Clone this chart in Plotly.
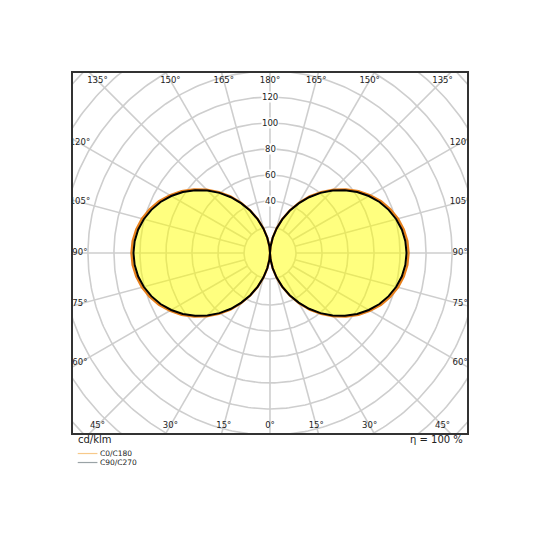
import numpy as np
import plotly.graph_objects as go

# Lichtstärkeverteilung (cd/klm), gamma 0..180 in 5°-Schritten
gamma = list(range(0, 181, 5))
c0_c180 = [0, 5.1, 12.0, 19.7, 27.9, 36.3, 44.8, 53.2, 61.3, 69.1, 76.3, 83.0, 89.0, 94.3, 98.6, 102.0, 104.5, 106.1,
           106.6,
           106.1, 104.5, 102.0, 98.6, 94.3, 89.0, 83.0, 76.3, 69.1, 61.3, 53.2, 44.8, 36.3, 27.9, 19.7, 12.0, 5.1, 0]
c90_c270 = [0, 5.0, 11.8, 19.4, 27.5, 35.8, 44.1, 52.4, 60.4, 68.1, 75.2, 81.8, 87.7, 92.9, 97.1, 100.5, 103.0, 104.5,
            105.0,
            104.5, 103.0, 100.5, 97.1, 92.9, 87.7, 81.8, 75.2, 68.1, 60.4, 52.4, 44.1, 35.8, 27.5, 19.4, 11.8, 5.0, 0]

ring_values = [20, 40, 60, 80, 100, 120, 140, 160, 180, 200]
ring_labels = [40, 60, 80, 100, 120]
spoke_angles = list(range(0, 360, 15))
angle_labels = list(range(0, 181, 15))

series_names = ["C0/C180", "C90/C270"]
series_colors = ["#e8801c", "#000000"]
legend_colors = ["#f7c98a", "#9aa3a6"]

GRID = "rgb(206,206,206)"
FONT = "DejaVu Sans"


def to_xy(g, r):
    g = np.radians(np.asarray(g, dtype=float))
    r = np.asarray(r, dtype=float)
    # rechte Hälfte (C0 / C90), danach linke Hälfte (C180 / C270) zurück
    x = np.concatenate([r * np.sin(g), -(r * np.sin(g))[::-1]])
    y = np.concatenate([-r * np.cos(g), (-r * np.cos(g))[::-1]])
    return x, y


fig = go.Figure()

# Gitter: Kreise und Strahlen
gx, gy = [], []
t = np.linspace(0, 2 * np.pi, 361)
for rv in ring_values:
    gx += list(rv * np.cos(t)) + [None]
    gy += list(rv * np.sin(t)) + [None]
for a in spoke_angles:
    ar = np.radians(a)
    gx += [20 * np.sin(ar), 230 * np.sin(ar), None]
    gy += [-20 * np.cos(ar), -230 * np.cos(ar), None]
fig.add_trace(go.Scatter(x=gx, y=gy, mode="lines", line=dict(color=GRID, width=1.6),
                         hoverinfo="skip", showlegend=False))

# Kurven
for i, (name, vals) in enumerate(zip(series_names, [c0_c180, c90_c270])):
    x, y = to_xy(gamma, vals)
    fig.add_trace(go.Scatter(
        x=x, y=y, mode="lines", name=name,
        line=dict(color=series_colors[i], width=2.2 if i == 0 else 2),
        fill="toself" if i == 0 else None,
        fillcolor="rgba(255,255,0,0.5)",
        showlegend=False,
    ))

# Winkelbeschriftung am Rahmen
lx, ly, lt = [], [], []
XL, YL = 146.2, 132.7
for a in angle_labels:
    sides = [1] if a in (0, 180) else [1, -1]
    for s in sides:
        ar = np.radians(a)
        dx, dy = s * np.sin(ar), -np.cos(ar)
        k = min(XL / abs(dx) if abs(dx) > 1e-9 else 1e9, YL / abs(dy) if abs(dy) > 1e-9 else 1e9)
        lx.append(k * dx)
        ly.append(k * dy)
        lt.append(f"{a}°")
fig.add_trace(go.Scatter(x=lx, y=ly, mode="text", text=lt, cliponaxis=True,
                         textfont=dict(family=FONT, size=8.5, color="#222"),
                         hoverinfo="skip", showlegend=False))

# Radiale Werte
for rv in ring_labels:
    fig.add_annotation(x=0, y=rv, text=str(rv), showarrow=False, bgcolor="white", borderpad=0,
                       font=dict(family=FONT, size=8.5, color="#222"))

fig.add_annotation(xref="paper", yref="paper", x=0.008, y=-0.018, xanchor="left", yanchor="middle",
                   text="cd/klm", showarrow=False, font=dict(family=FONT, size=10, color="#222"))
fig.add_annotation(xref="paper", yref="paper", x=0.995, y=-0.018, xanchor="right", yanchor="middle",
                   text="η = 100 %", showarrow=False, font=dict(family=FONT, size=10, color="#222"))

# Legende
for i, name in enumerate(series_names):
    yp = -0.057 - i * 0.025
    fig.add_shape(type="line", xref="paper", yref="paper", x0=0.012, x1=0.062, y0=yp, y1=yp,
                  line=dict(color=legend_colors[i], width=1.2))
    fig.add_annotation(xref="paper", yref="paper", x=0.066, y=yp, xanchor="left", yanchor="middle",
                       text=name, showarrow=False, borderpad=0,
                       font=dict(family=FONT, size=7.5, color="#222"))

fig.update_xaxes(range=[-151.5, 151.5], showgrid=False, zeroline=False, showticklabels=False, ticks="",
                 showline=True, mirror=True, linecolor="#333", linewidth=2)
fig.update_yaxes(range=[-138.5, 138.5], showgrid=False, zeroline=False, showticklabels=False, ticks="",
                 showline=True, mirror=True, linecolor="#333", linewidth=2)
fig.update_layout(width=540, height=540, margin=dict(l=65, r=81, t=65, b=115),
                  plot_bgcolor="white", paper_bgcolor="white")

fig.write_html("out.html")
